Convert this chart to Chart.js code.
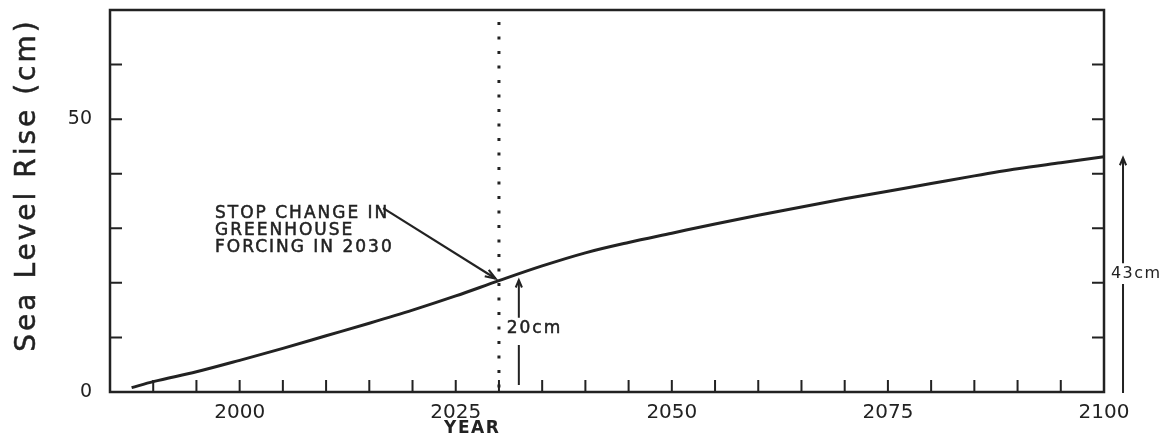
<!DOCTYPE html>
<html>
<head>
<meta charset="utf-8">
<script src="https://cdn.jsdelivr.net/npm/chart.js@4.4.1/dist/chart.umd.min.js"></script>
<style>
  html, body { margin: 0; padding: 0; background: #fff; }
  canvas { display: block; }
</style>
</head>
<body>
<canvas id="seaChart" width="1172" height="435"></canvas>
<script>
// values
var years = [1987.5, 1990, 1995, 2000, 2005, 2010, 2015, 2020, 2025, 2030, 2035, 2040,
             2045, 2050, 2055, 2060, 2065, 2070, 2075, 2080, 2085, 2090, 2095, 2100];
var seaLevelCm = [0.8, 1.9, 3.7, 5.8, 8.0, 10.3, 12.6, 15.0, 17.6, 20.4, 23.1, 25.5,
                  27.4, 29.1, 30.8, 32.4, 33.9, 35.4, 36.8, 38.2, 39.6, 40.9, 42.0, 43.1];
var xLabelYears = [2000, 2025, 2050, 2075, 2100];
var yLabelValues = [0, 50];
var stopYear = 2030;

var INK = '#222';

var decorations = {
    id: 'decorations',
    afterDraw: function(chart) {
        var ctx = chart.ctx;
        var x = chart.scales.x, y = chart.scales.y;
        var a = chart.chartArea;
        ctx.save();
        ctx.strokeStyle = INK;
        ctx.fillStyle = INK;

        // frame
        ctx.lineWidth = 2.5;
        ctx.strokeRect(a.left, a.top, a.right - a.left, a.bottom - a.top);

        // inward ticks
        ctx.lineWidth = 2;
        ctx.beginPath();
        x.ticks.forEach(function(t) {
            var px = x.getPixelForValue(t.value);
            if (px <= a.left + 1 || px >= a.right - 1) return;
            ctx.moveTo(px, a.bottom);
            ctx.lineTo(px, a.bottom - 12);
        });
        y.ticks.forEach(function(t) {
            var py = y.getPixelForValue(t.value);
            if (py <= a.top + 1 || py >= a.bottom - 1) return;
            ctx.moveTo(a.left, py);
            ctx.lineTo(a.left + 12, py);
            ctx.moveTo(a.right, py);
            ctx.lineTo(a.right - 12, py);
        });
        ctx.stroke();

        // dotted line at 2030
        var sx = x.getPixelForValue(stopYear);
        ctx.lineWidth = 3;
        ctx.setLineDash([3, 11.5]);
        ctx.beginPath();
        ctx.moveTo(sx, a.top + 12);
        ctx.lineTo(sx, a.bottom - 2);
        ctx.stroke();
        ctx.setLineDash([]);

        function P(yr, cm) { return [x.getPixelForValue(yr), y.getPixelForValue(cm)]; }
        function arrowHead(tip, from, len, spread) {
            var ang = Math.atan2(tip[1] - from[1], tip[0] - from[0]);
            ctx.beginPath();
            ctx.moveTo(tip[0] - len * Math.cos(ang - spread), tip[1] - len * Math.sin(ang - spread));
            ctx.lineTo(tip[0], tip[1]);
            ctx.lineTo(tip[0] - len * Math.cos(ang + spread), tip[1] - len * Math.sin(ang + spread));
            ctx.stroke();
        }
        // scanned lettering is a bit heavier than the font
        function heavyText(s, px, py) {
            ctx.fillText(s, px, py);
            ctx.lineWidth = 0.5;
            ctx.strokeText(s, px, py);
        }

        // annotation text
        ctx.font = '17px "DejaVu Sans"';
        ctx.letterSpacing = '2px';
        ctx.textAlign = 'left';
        ctx.textBaseline = 'alphabetic';
        var t0 = P(1997.15, 31.9);
        ['STOP CHANGE IN', 'GREENHOUSE', 'FORCING IN 2030'].forEach(function(s, i) {
            heavyText(s, t0[0], t0[1] + i * 17);
        });

        // diagonal arrow to the curve
        ctx.lineWidth = 2.2;
        var aFrom = P(2016.6, 33.7), aTip = P(2029.6, 20.8);
        ctx.beginPath();
        ctx.moveTo(aFrom[0], aFrom[1]);
        ctx.lineTo(aTip[0], aTip[1]);
        ctx.stroke();
        arrowHead(aTip, aFrom, 11, 0.35);

        // 20cm marker
        var m1Top = P(2032.3, 20.5), m1a = P(2032.3, 13.6), m1b = P(2032.3, 8.6), m1Bot = P(2032.3, 1.3);
        ctx.lineWidth = 2;
        ctx.beginPath();
        ctx.moveTo(m1Top[0], m1Top[1]); ctx.lineTo(m1a[0], m1a[1]);
        ctx.moveTo(m1b[0], m1b[1]); ctx.lineTo(m1Bot[0], m1Bot[1]);
        ctx.stroke();
        arrowHead(m1Top, m1a, 8, 0.4);
        var l1 = P(2030.9, 10.8);
        ctx.font = '17px "DejaVu Sans"';
        ctx.letterSpacing = '2px';
        heavyText('20cm', l1[0], l1[1]);

        // 43cm marker
        ctx.lineWidth = 2;
        var m2Top = P(2102.2, 42.9), m2a = P(2102.2, 23.6), m2b = P(2102.2, 19.8), m2Bot = P(2102.2, -0.2);
        ctx.beginPath();
        ctx.moveTo(m2Top[0], m2Top[1]); ctx.lineTo(m2a[0], m2a[1]);
        ctx.moveTo(m2b[0], m2b[1]); ctx.lineTo(m2Bot[0], m2Bot[1]);
        ctx.stroke();
        arrowHead(m2Top, m2a, 8, 0.4);
        var l2 = P(2100.8, 20.9);
        ctx.font = '16px "DejaVu Sans"';
        ctx.letterSpacing = '1.5px';
        ctx.fillText('43cm', l2[0], l2[1]);

        // x axis title
        ctx.font = 'bold 17px "DejaVu Sans"';
        ctx.letterSpacing = '1.5px';
        ctx.textAlign = 'center';
        ctx.fillText('YEAR', x.getPixelForValue(2026.9), 433);

        // y axis title
        ctx.translate(35, 185);
        ctx.rotate(-Math.PI / 2);
        ctx.font = '28px "DejaVu Sans"';
        ctx.letterSpacing = '3px';
        heavyText('Sea Level Rise (cm)', 0, 0);

        ctx.restore();
    }
};

var ctx = document.getElementById('seaChart').getContext('2d');
new Chart(ctx, {
    type: 'line',
    data: {
        datasets: [{
            data: years.map(function(yr, i) { return { x: yr, y: seaLevelCm[i] }; }),
            borderColor: INK,
            borderWidth: 3,
            pointRadius: 0,
            cubicInterpolationMode: 'monotone',
            fill: false
        }]
    },
    options: {
        responsive: false,
        animation: false,
        layout: {
            padding: { left: 0, right: 68, top: 10, bottom: 0 }
        },
        plugins: {
            legend: { display: false },
            tooltip: { enabled: false }
        },
        scales: {
            x: {
                type: 'linear',
                min: 1985,
                max: 2100,
                grid: { display: false, drawTicks: false },
                border: { display: false },
                ticks: {
                    stepSize: 5,
                    autoSkip: false,
                    maxRotation: 0,
                    padding: 9,
                    color: INK,
                    font: { family: 'DejaVu Sans', size: 20 },
                    callback: function(v) { return xLabelYears.indexOf(v) >= 0 ? String(v) : ''; }
                },
                afterFit: function(s) {
                    s.height = 43;
                    s.paddingLeft = 0;
                    s.paddingRight = 0;
                }
            },
            y: {
                min: 0,
                max: 70,
                grid: { display: false, drawTicks: false },
                border: { display: false },
                ticks: {
                    stepSize: 10,
                    padding: 18,
                    color: INK,
                    font: { family: 'DejaVu Sans', size: 19 },
                    callback: function(v) { return yLabelValues.indexOf(v) >= 0 ? String(v) : ''; }
                },
                afterFit: function(s) {
                    s.width = 110;
                    s.paddingTop = 0;
                    s.paddingBottom = 0;
                }
            }
        }
    },
    plugins: [decorations]
});
</script>
</body>
</html>
